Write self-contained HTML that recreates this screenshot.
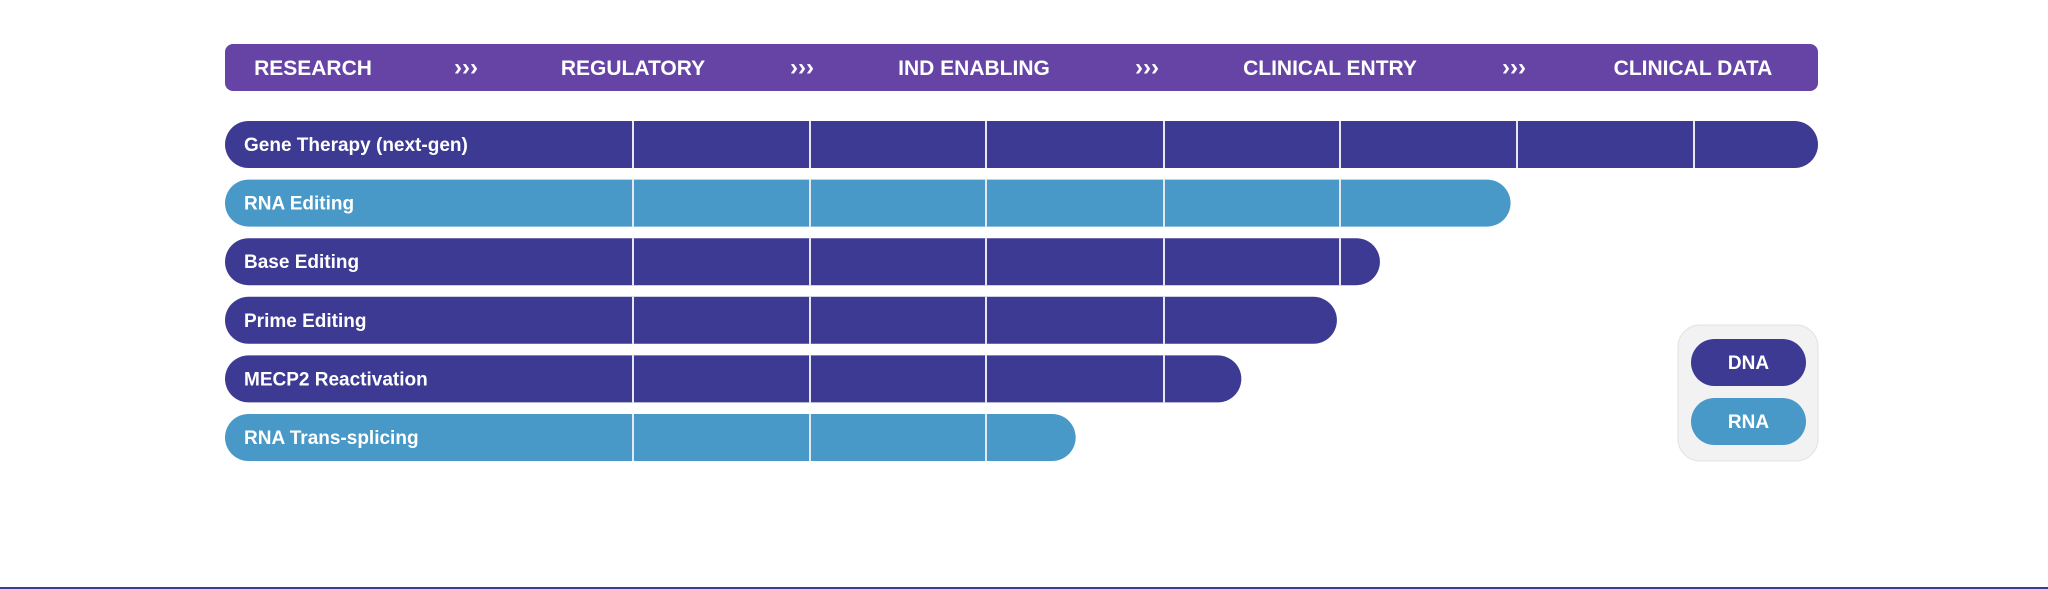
<!DOCTYPE html>
<html><head><meta charset="utf-8"><style>
body{margin:0;width:2048px;height:589px;background:#fff;overflow:hidden;font-family:"Liberation Sans",sans-serif;}
svg{display:block}
</style></head><body>
<svg id="chart" width="2048" height="589">
<rect x="225" y="44" width="1593" height="47" rx="8" fill="#6644a6"/>
<g id="hdr"></g>
<g id="bars"></g>
<g>
<rect x="1678" y="325" width="140" height="136" rx="22" fill="#f2f2f2" stroke="#e2e2e2"/>
<rect x="1691" y="339" width="115" height="47" rx="23.5" fill="#3d3a93"/>
<text x="1748.5" y="369" text-anchor="middle" font-size="19" font-weight="bold" fill="#fff">DNA</text>
<rect x="1691" y="398" width="115" height="47" rx="23.5" fill="#4899c8"/>
<text x="1748.5" y="428" text-anchor="middle" font-size="19" font-weight="bold" fill="#fff">RNA</text>
</g>
<rect x="0" y="587" width="2048" height="2" fill="#3d3a93"/>
</svg>
<script>
const stages=["RESEARCH","REGULATORY","IND ENABLING","CLINICAL ENTRY","CLINICAL DATA"];
const programs=["Gene Therapy (next-gen)","RNA Editing","Base Editing","Prime Editing","MECP2 Reactivation","RNA Trans-splicing"];
const types=["DNA","RNA","DNA","DNA","DNA","RNA"];
const progress=[100,80.7,72.5,69.8,63.8,53.4];
const NS="http://www.w3.org/2000/svg";
const X0=225,X1=1818;
function xScale(v){return X0+(X1-X0)*v/100;}
const dividers=[633,810,986,1164,1340,1517,1694];
const hdrX=[313,633,974,1330,1693],arrX=[466,802,1147,1514];
const hdr=document.getElementById('hdr');
stages.forEach((s,i)=>{const t=document.createElementNS(NS,'text');
t.setAttribute('x',hdrX[i]);t.setAttribute('y',75);t.setAttribute('text-anchor','middle');
t.setAttribute('font-size','21');t.setAttribute('font-weight','bold');t.setAttribute('fill','#fff');


t.textContent=s;hdr.appendChild(t);});
arrX.forEach(x=>{const t=document.createElementNS(NS,'text');
t.setAttribute('x',x);t.setAttribute('y',75);t.setAttribute('text-anchor','middle');
t.setAttribute('font-size','24');t.setAttribute('font-weight','bold');t.setAttribute('fill','#fff');


t.textContent='\u203A\u203A\u203A';hdr.appendChild(t);});
const bars=document.getElementById('bars');
programs.forEach((p,i)=>{
 const y=121+i*58.6,h=47,end=xScale(progress[i]);
 const col=types[i]==='DNA'?'#3d3a93':'#4899c8';
 const r=document.createElementNS(NS,'rect');
 r.setAttribute('x',X0);r.setAttribute('y',y);r.setAttribute('width',end-X0);r.setAttribute('height',h);
 r.setAttribute('rx',23.5);r.setAttribute('fill',col);
 
 
 bars.appendChild(r);
 dividers.forEach(d=>{if(d<end-8){const l=document.createElementNS(NS,'rect');
  l.setAttribute('x',d-1);l.setAttribute('y',y);l.setAttribute('width',2);l.setAttribute('height',h);
  l.setAttribute('fill','#e6e6f0');
  
  
  bars.appendChild(l);}});
 const t=document.createElementNS(NS,'text');
 t.setAttribute('x',244);t.setAttribute('y',y+30);t.setAttribute('font-size','19');
 t.setAttribute('font-weight','bold');t.setAttribute('fill','#fff');
 
 
 t.textContent=p;bars.appendChild(t);
});
</script>
</body></html>
